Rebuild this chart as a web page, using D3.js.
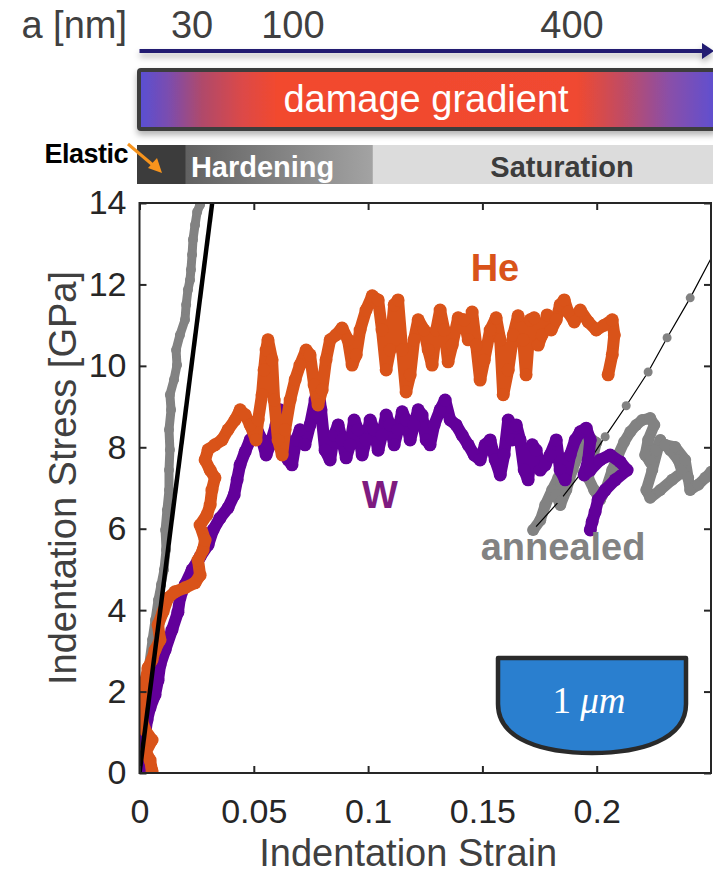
<!DOCTYPE html>
<html>
<head>
<meta charset="utf-8">
<script src="https://cdn.jsdelivr.net/npm/d3@7"></script>
<style>
  body { margin: 0; background: #fff; }
  text { font-family: "Liberation Sans", Arial, sans-serif; }
</style>
</head>
<body>
<div id="chart-area"></div>
<script>
// ---- data (strain, stress in GPa) ----
const heTrace = [
  [0.0055,0.05],[0.0046,0.32],[0.0028,0.52],[0.0055,0.81],[0.0024,1.06],[0.0011,1.30],[0.0007,1.67],
  [0.0020,2.04],[0.0028,2.29],[0.0037,2.58],[0.0055,2.78],[0.0068,3.02],[0.0090,3.27],[0.0081,3.64],
  [0.0103,3.96],[0.0125,4.30],[0.0155,4.45],[0.0199,4.55],[0.0243,4.67],[0.0265,4.86],[0.0256,5.23],
  [0.0278,5.48],[0.0287,5.72],[0.0265,6.09],[0.0295,6.34],[0.0309,6.58],[0.0317,6.95],[0.0330,7.25],
  [0.0309,7.44],[0.0287,7.69],[0.0300,7.94],[0.0330,8.06],[0.0361,8.18],[0.0387,8.43],[0.0418,8.67],
  [0.0440,8.92],[0.0462,8.80],[0.0484,8.55],[0.0510,8.18],[0.0519,8.67],[0.0536,9.29],[0.0545,9.90],
  [0.0554,10.39],[0.0562,10.64],[0.0580,10.15],[0.0589,9.16],[0.0606,8.18],[0.0624,7.81],[0.0637,8.43],
  [0.0659,9.16],[0.0681,9.66],[0.0702,10.02],[0.0729,10.39],[0.0746,10.27],[0.0764,9.53],[0.0781,9.04],
  [0.0799,9.41],[0.0816,10.15],[0.0834,10.64],[0.0860,10.76],[0.0886,10.93],[0.0912,10.64],[0.0930,10.02],
  [0.0948,10.27],[0.0965,10.88],[0.0991,11.37],[0.1018,11.72],[0.1044,11.62],[0.1061,10.88],[0.1079,9.90],
  [0.1096,10.39],[0.1114,11.50],[0.1131,11.62],[0.1149,10.39],[0.1166,9.36],[0.1184,9.78],[0.1201,10.64],
  [0.1219,11.13],[0.1245,10.88],[0.1263,10.39],[0.1280,10.02],[0.1298,10.88],[0.1315,11.37],[0.1333,10.88],
  [0.1350,10.10],[0.1368,10.51],[0.1394,11.18],[0.1420,11.13],[0.1438,10.64],[0.1455,11.32],[0.1473,10.51],
  [0.1490,9.65],[0.1508,10.14],[0.1534,10.88],[0.1560,11.18],[0.1578,10.64],[0.1591,9.29],[0.1613,9.90],
  [0.1635,10.76],[0.1656,11.23],[0.1678,10.64],[0.1691,9.78],[0.1709,11.13],[0.1726,11.18],[0.1744,10.51],
  [0.1761,10.76],[0.1783,11.25],[0.1801,10.88],[0.1823,11.13],[0.1840,11.50],[0.1858,11.62],[0.1875,11.32],
  [0.1902,11.08],[0.1928,11.37],[0.1963,11.08],[0.1998,10.88],[0.2033,11.00],[0.2068,11.13],[0.2077,10.76],
  [0.2068,10.27],[0.2050,9.78]
]

const wTrace = [
  [0.0002,0.00],[0.0001,0.32],[0.0007,0.61],[0.0024,0.93],[0.0033,1.30],[0.0046,1.60],[0.0068,1.92],
  [0.0081,2.28],[0.0090,2.65],[0.0112,3.02],[0.0142,3.51],[0.0168,3.95],[0.0177,4.30],[0.0199,4.62],
  [0.0230,4.99],[0.0265,5.31],[0.0300,5.60],[0.0322,5.97],[0.0352,6.26],[0.0387,6.51],[0.0414,6.83],
  [0.0427,7.20],[0.0440,7.57],[0.0462,7.89],[0.0484,8.18],[0.0514,8.43],[0.0536,8.18],[0.0554,7.81],
  [0.0571,8.06],[0.0597,8.55],[0.0614,8.92],[0.0632,8.43],[0.0650,7.69],[0.0667,7.57],[0.0685,8.18],
  [0.0702,8.43],[0.0724,8.06],[0.0746,8.55],[0.0768,9.16],[0.0781,9.53],[0.0794,8.92],[0.0812,7.93],
  [0.0834,7.69],[0.0851,8.30],[0.0869,8.55],[0.0886,8.18],[0.0904,7.74],[0.0921,8.06],[0.0939,8.67],
  [0.0956,8.43],[0.0974,7.81],[0.0991,8.18],[0.1009,8.67],[0.1026,8.43],[0.1044,7.93],[0.1061,8.30],
  [0.1079,8.79],[0.1096,8.55],[0.1114,8.06],[0.1131,8.43],[0.1149,8.87],[0.1166,8.67],[0.1184,8.18],
  [0.1201,8.55],[0.1219,8.92],[0.1236,8.79],[0.1254,8.18],[0.1271,8.06],[0.1289,8.55],[0.1315,8.92],
  [0.1337,9.16],[0.1359,8.67],[0.1385,8.55],[0.1411,8.30],[0.1438,8.06],[0.1464,7.81],[0.1490,7.69],
  [0.1512,8.06],[0.1534,8.18],[0.1556,7.69],[0.1578,7.32],[0.1595,7.81],[0.1613,8.67],[0.1630,8.18],
  [0.1648,8.55],[0.1665,8.18],[0.1683,7.44],[0.1700,7.20],[0.1718,8.06],[0.1735,7.93],[0.1753,7.44],
  [0.1775,7.57],[0.1796,7.81],[0.1823,8.18],[0.1840,7.44],[0.1862,7.20],[0.1884,7.81],[0.1906,8.18],
  [0.1928,8.38],[0.1954,8.47],[0.1972,8.18],[0.1963,7.69],[0.1945,7.32],[0.1972,7.44],[0.2015,7.69],
  [0.2059,7.81],[0.2103,7.64],[0.2133,7.44],[0.2081,7.20],[0.2037,6.95],[0.2006,6.71],[0.1993,6.41],
  [0.1980,6.17],[0.1972,5.97]
]

// annealed: initial loading branch
const annealedLoad = [
  [0.0000,0.00],[0.0007,0.57],[0.0015,1.30],[0.0028,2.04],[0.0037,2.53],[0.0055,3.27],[0.0068,3.76],
  [0.0081,4.25],[0.0094,4.62],[0.0107,4.99],[0.0116,5.48],[0.0112,5.97],[0.0120,6.46],[0.0129,6.95],
  [0.0129,7.44],[0.0133,7.94],[0.0129,8.43],[0.0138,8.92],[0.0133,9.29],[0.0151,9.66],[0.0164,10.02],
  [0.0160,10.39],[0.0177,10.76],[0.0199,11.13],[0.0204,11.50],[0.0212,11.87],[0.0221,12.11],[0.0225,12.36],
  [0.0230,12.73],[0.0234,13.10],[0.0243,13.46],[0.0252,13.78],[0.0265,13.96]
]
// annealed: late branch near 0.2 strain
const annealedLate = [
  [0.1722,5.97],[0.1753,6.21],[0.1775,6.58],[0.1805,6.95],[0.1832,7.25],[0.1823,6.83],[0.1841,6.58],
  [0.1867,6.95],[0.1893,7.44],[0.1919,7.81],[0.1945,8.06],[0.1972,8.23],[0.1998,8.11],[0.1980,7.69],
  [0.1963,7.25],[0.1989,6.95],[0.2015,6.71],[0.2042,7.00],[0.2068,7.44],[0.2094,7.81],[0.2120,8.13],
  [0.2147,8.38],[0.2173,8.55],[0.2199,8.67],[0.2234,8.72],[0.2252,8.55],[0.2225,8.18],[0.2212,7.81],
  [0.2234,7.64],[0.2260,7.93],[0.2278,8.18],[0.2243,7.44],[0.2217,6.95],[0.2234,6.76],[0.2278,6.95],
  [0.2330,7.20],[0.2374,7.39],[0.2357,7.69],[0.2322,7.93],[0.2300,8.06],[0.2343,8.01],[0.2387,7.69],
  [0.2400,7.25],[0.2409,6.95],[0.2444,7.08],[0.2475,7.25],[0.2501,7.40]
]
// annealed: sparse jump branch (thin line)
const annealedJump = [
  [0.1722,5.97],[0.1841,6.71],[0.1937,7.40],[0.2037,8.26],[0.2129,9.02],[0.2225,9.85],[0.2308,10.69],
  [0.2409,11.67],[0.2520,12.85]
]
// elastic fit line
const elasticFit = [[0, 0], [0.0318, 14]]

// top annotation
const depthLabels = ["30", "100", "400"]
const depthStrain = [0.0230, 0.0671, 0.1892]
const regimeNames = ["", "Hardening", "Saturation"]
const regimeBounds = [0, 0.0203, 0.1021, 0.2600]

const xTicks = [0, 0.05, 0.1, 0.15, 0.2]
const yTicks = [0, 2, 4, 6, 8, 10, 12, 14]

// ---- layout ----
const MARGIN = { LEFT: 139.5, TOP: 203 }
const WIDTH = 571.5
const HEIGHT = 570

const svg = d3.select("#chart-area").append("svg")
  .attr("width", 713)
  .attr("height", 873)

const defs = svg.append("defs")

const x = d3.scaleLinear().domain([0, 0.25]).range([0, WIDTH])
const y = d3.scaleLinear().domain([0, 14]).range([HEIGHT, 0])
const X = v => MARGIN.LEFT + x(v)   // page coords for header

// ---- header ----
const shadow = defs.append("filter").attr("id", "shadow")
  .attr("x", "-5%").attr("y", "-100%").attr("width", "110%").attr("height", "400%")
shadow.append("feDropShadow").attr("dx", 0).attr("dy", 4).attr("stdDeviation", 3)
  .attr("flood-color", "#000").attr("flood-opacity", 0.3)

svg.append("text")
  .attr("x", 127).attr("y", 38)
  .attr("text-anchor", "end")
  .attr("font-size", "38px")
  .attr("fill", "#404040")
  .text("a [nm]")

svg.selectAll(".depth").data(depthLabels).enter().append("text")
  .attr("class", "depth")
  .attr("x", (d, i) => X(depthStrain[i]))
  .attr("y", 38)
  .attr("text-anchor", "middle")
  .attr("font-size", "38px")
  .attr("fill", "#404040")
  .text(d => d)

const arrow = svg.append("g").attr("filter", "url(#shadow)")
arrow.append("line")
  .attr("x1", X(0)).attr("x2", 704)
  .attr("y1", 51).attr("y2", 51)
  .attr("stroke", "#201a72").attr("stroke-width", 4)
arrow.append("path")
  .attr("d", "M702,43 L714,51 L702,59 Z")
  .attr("fill", "#201a72")

// damage gradient bar
const grad = defs.append("linearGradient").attr("id", "dmg")
  .attr("x1", "0%").attr("x2", "100%")
const dmgStops = [
  [0, "#5850d4"], [0.05, "#7a4db0"], [0.11, "#b04a6a"], [0.18, "#dc4848"], [0.24, "#f24a2e"],
  [0.76, "#f04a30"], [0.84, "#c04c64"], [0.92, "#8a4fa8"], [1, "#5f50d0"]
]
dmgStops.forEach(s => grad.append("stop").attr("offset", s[0]).attr("stop-color", s[1]))

svg.append("rect")
  .attr("x", 139).attr("y", 70)
  .attr("width", 576).attr("height", 59)
  .attr("rx", 2)
  .attr("fill", "url(#dmg)")
  .attr("stroke", "#3e3e3e").attr("stroke-width", 4)
  .attr("filter", "url(#shadow)")

svg.append("text")
  .attr("x", 426).attr("y", 112)
  .attr("text-anchor", "middle")
  .attr("font-size", "38px")
  .attr("fill", "#fff")
  .text("damage gradient")

// regime bands
const hardGrad = defs.append("linearGradient").attr("id", "hard")
  .attr("x1", "0%").attr("x2", "100%")
hardGrad.append("stop").attr("offset", 0).attr("stop-color", "#616161")
hardGrad.append("stop").attr("offset", 1).attr("stop-color", "#a3a3a3")

const bandFill = ["#3c3c3c", "url(#hard)", "#dcdcdc"]
const bands = svg.selectAll(".band").data(regimeNames).enter().append("g").attr("class", "band")
bands.append("rect")
  .attr("x", (d, i) => i === 0 ? X(regimeBounds[i]) - 2.5 : X(regimeBounds[i]))
  .attr("y", 145)
  .attr("width", (d, i) => X(regimeBounds[i + 1]) - X(regimeBounds[i]) + (i === 0 ? 2.5 : 0))
  .attr("height", 39)
  .attr("fill", (d, i) => bandFill[i])
bands.append("text")
  .attr("x", (d, i) => i === 1 ? X(regimeBounds[1]) + 5 : 562)
  .attr("y", 177)
  .attr("text-anchor", (d, i) => i === 1 ? "start" : "middle")
  .attr("font-size", "29px")
  .attr("font-weight", "bold")
  .attr("fill", (d, i) => i === 1 ? "#fff" : "#3c3c3c")
  .text(d => d)

svg.append("text")
  .attr("x", 128).attr("y", 163)
  .attr("text-anchor", "end")
  .attr("font-size", "27px")
  .attr("font-weight", "bold")
  .attr("letter-spacing", "-0.5px")
  .attr("fill", "#000")
  .text("Elastic")

svg.append("line")
  .attr("x1", 128).attr("y1", 144)
  .attr("x2", 154).attr("y2", 166)
  .attr("stroke", "#f7941d").attr("stroke-width", 3)
svg.append("path")
  .attr("d", "M162,173 L148,168 L157,158 Z")
  .attr("fill", "#f7941d")

// ---- plot ----
const g = svg.append("g")
  .attr("transform", `translate(${MARGIN.LEFT}, ${MARGIN.TOP})`)

defs.append("clipPath").attr("id", "clip")
  .append("rect").attr("width", WIDTH).attr("height", HEIGHT)

const plot = g.append("g").attr("clip-path", "url(#clip)")

const line = d3.line().x(d => x(d[0])).y(d => y(d[1]))

function drawTrace(data, color, w, r) {
  plot.append("path").datum(data)
    .attr("d", line)
    .attr("fill", "none")
    .attr("stroke", color)
    .attr("stroke-width", w)
    .attr("stroke-linejoin", "round")
    .attr("stroke-linecap", "round")
  plot.append("g").selectAll("circle").data(data).enter().append("circle")
    .attr("cx", d => x(d[0]))
    .attr("cy", d => y(d[1]))
    .attr("r", r)
    .attr("fill", color)
}

const GRAY = "#828282", ORANGE = "#d95319", PURPLE = "#62009a"

drawTrace(annealedLoad, GRAY, 9, 5)
drawTrace(annealedLate, GRAY, 11, 6)

// jump branch: thin black line with gray markers
plot.append("path").datum(annealedJump)
  .attr("d", line)
  .attr("fill", "none")
  .attr("stroke", "#000")
  .attr("stroke-width", 1.2)
plot.append("g").selectAll("circle").data(annealedJump).enter().append("circle")
  .attr("cx", d => x(d[0]))
  .attr("cy", d => y(d[1]))
  .attr("r", 4.5)
  .attr("fill", GRAY)

drawTrace(wTrace, PURPLE, 12, 6.5)
drawTrace(heTrace, ORANGE, 12, 6.5)

plot.append("path").datum(elasticFit)
  .attr("d", line)
  .attr("stroke", "#000")
  .attr("stroke-width", 4.5)

// labels
const labels = [
  { text: "He", s: 0.1555, v: 12.08, color: ORANGE },
  { text: "W", s: 0.1052, v: 6.51, color: "#7e1b80" },
  { text: "annealed", s: 0.1853, v: 5.23, color: GRAY }
]
g.selectAll(".series-label").data(labels).enter().append("text")
  .attr("class", "series-label")
  .attr("x", d => x(d.s))
  .attr("y", d => y(d.v))
  .attr("text-anchor", "middle")
  .attr("font-size", "38px")
  .attr("font-weight", "bold")
  .attr("fill", d => d.color)
  .text(d => d.text)

// indenter icon
const icon = svg.append("g")
icon.append("path")
  .attr("d", "M498,658 L686,658 L686,704 C686,740 640,753 592,753 C544,753 498,740 498,704 Z")
  .attr("fill", "#2a7fcf")
  .attr("stroke", "#2a2a2a")
  .attr("stroke-width", 4.5)
  .attr("stroke-linejoin", "round")
const iconText = icon.append("text")
  .attr("x", 589).attr("y", 713)
  .attr("text-anchor", "middle")
  .attr("font-size", "37px")
  .attr("fill", "#fff")
  .style("font-family", "'Liberation Serif', 'DejaVu Serif', serif")
iconText.append("tspan").text("1 ")
iconText.append("tspan").attr("font-style", "italic").text("μm")

// axes
const AXIS = "#262626"
const xAxisCall = d3.axisBottom(x).tickValues(xTicks).tickSize(-7).tickPadding(26).tickFormat(d => d)
const yAxisCall = d3.axisLeft(y).tickValues(yTicks).tickSize(-7).tickPadding(13).tickFormat(d => d)

const xAxis = g.append("g")
  .attr("transform", `translate(0, ${HEIGHT})`)
  .call(xAxisCall)
const yAxis = g.append("g").call(yAxisCall)
const topAxis = g.append("g").call(d3.axisTop(x).tickValues(xTicks).tickSize(-7).tickFormat(""))
const rightAxis = g.append("g")
  .attr("transform", `translate(${WIDTH}, 0)`)
  .call(d3.axisRight(y).tickValues(yTicks).tickSize(-7).tickFormat(""))

;[xAxis, yAxis, topAxis, rightAxis].forEach(a => {
  a.select(".domain").remove()
  a.selectAll("line").attr("stroke", AXIS).attr("stroke-width", 2)
  a.selectAll("text")
    .attr("fill", AXIS)
    .attr("font-size", "34px")
    .style("font-family", "'Liberation Sans', Arial, sans-serif")
})

g.append("rect")
  .attr("width", WIDTH).attr("height", HEIGHT)
  .attr("fill", "none")
  .attr("stroke", AXIS).attr("stroke-width", 2)

g.append("text")
  .attr("x", WIDTH / 2 - 17)
  .attr("y", HEIGHT + 93)
  .attr("text-anchor", "middle")
  .attr("font-size", "38px")
  .attr("fill", "#404040")
  .text("Indentation Strain")

g.append("text")
  .attr("transform", "rotate(-90)")
  .attr("x", -(HEIGHT / 2 - 10))
  .attr("y", -64)
  .attr("text-anchor", "middle")
  .attr("font-size", "38px")
  .attr("fill", "#404040")
  .text("Indentation Stress [GPa]")
</script>
</body>
</html>
